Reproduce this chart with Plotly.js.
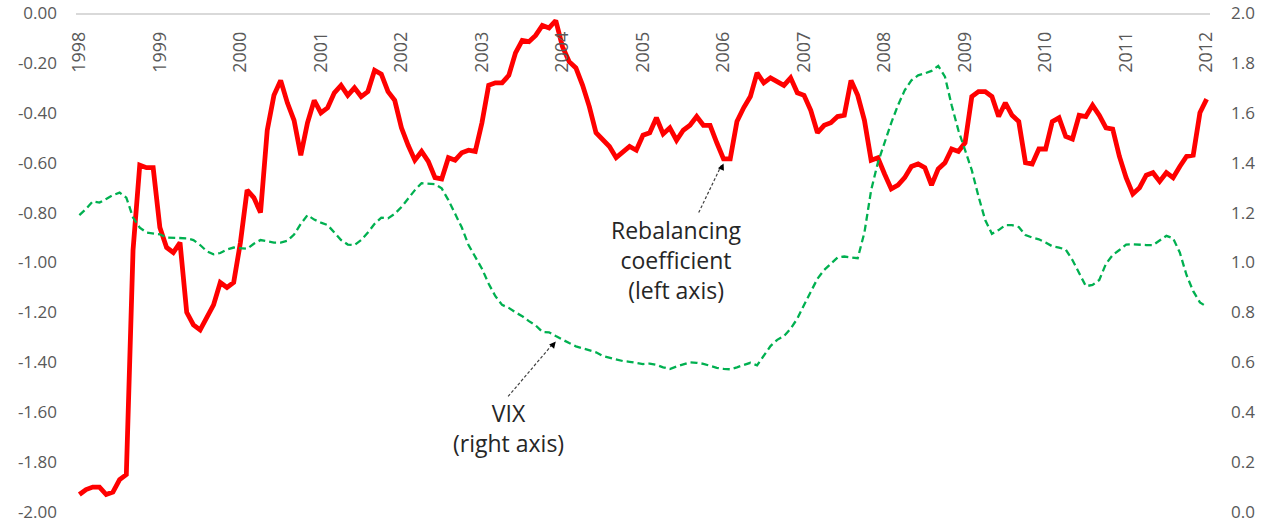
<!DOCTYPE html>
<html>
<head>
<meta charset="utf-8">
<script src="https://cdn.plot.ly/plotly-3.0.1.min.js"></script>
<style>
  html, body { margin: 0; padding: 0; background: #ffffff; }
  #chart { width: 1271px; height: 525px; }
</style>
</head>
<body>
<div id="chart"></div>
<script>
// ---- Data ----
const years = ['1998','1999','2000','2001','2002','2003','2004','2005','2006','2007','2008','2009','2010','2011','2012'];
const monthNums = ['01','02','03','04','05','06','07','08','09','10','11','12'];

// Monthly categories Jan-1998 .. Jan-2012
const months = [];
years.forEach(function (y, yi) {
  monthNums.forEach(function (m) {
    if (yi < years.length - 1 || m === '01') months.push(y + '-' + m);
  });
});

// Rebalancing coefficient (left axis)
const rebalancing = [
  -1.93, -1.91, -1.90, -1.90, -1.93, -1.92, -1.87, -1.85, -0.95, -0.61, -0.62, -0.62,
  -0.86, -0.94, -0.96, -0.92, -1.20, -1.25, -1.27, -1.22, -1.17, -1.08, -1.10, -1.08,
  -0.92, -0.71, -0.74, -0.80, -0.47, -0.33, -0.27, -0.36, -0.43, -0.57, -0.44, -0.35,
  -0.40, -0.38, -0.32, -0.29, -0.33, -0.30, -0.335, -0.315, -0.23, -0.245, -0.315, -0.35,
  -0.46, -0.53, -0.59, -0.555, -0.595, -0.66, -0.665, -0.58, -0.59, -0.56, -0.55, -0.555,
  -0.44, -0.29, -0.28, -0.28, -0.25, -0.16, -0.11, -0.115, -0.09, -0.05, -0.06, -0.03,
  -0.135, -0.195, -0.22, -0.29, -0.375, -0.48, -0.51, -0.535, -0.58, -0.555, -0.535, -0.55,
  -0.49, -0.48, -0.42, -0.485, -0.46, -0.51, -0.47, -0.45, -0.415, -0.45, -0.45, -0.52,
  -0.585, -0.585, -0.435, -0.38, -0.335, -0.24, -0.28, -0.26, -0.275, -0.29, -0.26, -0.32,
  -0.33, -0.39, -0.48, -0.45, -0.44, -0.415, -0.41, -0.27, -0.33, -0.43, -0.59, -0.58,
  -0.645, -0.705, -0.69, -0.66, -0.615, -0.605, -0.62, -0.69, -0.625, -0.60, -0.545, -0.555,
  -0.52, -0.335, -0.315, -0.315, -0.335, -0.415, -0.36, -0.41, -0.435, -0.60, -0.605, -0.545,
  -0.545, -0.435, -0.42, -0.495, -0.505, -0.41, -0.415, -0.37, -0.41, -0.46, -0.465, -0.575,
  -0.66, -0.725, -0.70, -0.65, -0.64, -0.675, -0.64, -0.66, -0.615, -0.575, -0.57, -0.40,
  -0.345
];

// VIX (right axis)
const vix = [
  1.19, 1.215, 1.245, 1.24, 1.255, 1.27, 1.28, 1.26, 1.18, 1.14, 1.12, 1.115,
  1.113, 1.10, 1.098, 1.099, 1.097, 1.09, 1.07, 1.045, 1.033, 1.038, 1.052, 1.06,
  1.058, 1.055, 1.075, 1.09, 1.085, 1.08, 1.08, 1.087, 1.112, 1.155, 1.19, 1.172,
  1.16, 1.15, 1.12, 1.09, 1.072, 1.07, 1.09, 1.12, 1.155, 1.18, 1.177, 1.195,
  1.222, 1.255, 1.29, 1.318, 1.317, 1.314, 1.297, 1.25, 1.195, 1.14, 1.07, 1.02,
  0.975, 0.915, 0.865, 0.83, 0.818, 0.80, 0.785, 0.765, 0.748, 0.722, 0.72, 0.705,
  0.69, 0.677, 0.664, 0.655, 0.648, 0.64, 0.625, 0.618, 0.612, 0.605, 0.602, 0.597,
  0.593, 0.595, 0.59, 0.58, 0.573, 0.583, 0.59, 0.60, 0.598, 0.594, 0.586, 0.578,
  0.574, 0.572, 0.58, 0.59, 0.598, 0.588, 0.625, 0.665, 0.69, 0.705, 0.735, 0.775,
  0.83, 0.88, 0.935, 0.97, 0.995, 1.02, 1.024, 1.022, 1.017, 1.12, 1.29, 1.40,
  1.48, 1.56, 1.63, 1.69, 1.73, 1.75, 1.758, 1.768, 1.788, 1.745, 1.63, 1.53,
  1.45, 1.37, 1.265, 1.17, 1.115, 1.13, 1.15, 1.15, 1.142, 1.11, 1.10, 1.093,
  1.08, 1.065, 1.06, 1.052, 1.01, 0.955, 0.905, 0.91, 0.93, 0.995, 1.03, 1.05,
  1.072, 1.073, 1.07, 1.07, 1.07, 1.088, 1.107, 1.097, 1.04, 0.95, 0.885, 0.84,
  0.823
];

// Axis tick labels
const leftTickVals = [0, -0.2, -0.4, -0.6, -0.8, -1.0, -1.2, -1.4, -1.6, -1.8, -2.0];
const leftTickText = ['0.00','-0.20','-0.40','-0.60','-0.80','-1.00','-1.20','-1.40','-1.60','-1.80','-2.00'];
const rightTickVals = [2.0, 1.8, 1.6, 1.4, 1.2, 1.0, 0.8, 0.6, 0.4, 0.2, 0.0];
const rightTickText = ['2.0','1.8','1.6','1.4','1.2','1.0','0.8','0.6','0.4','0.2','0.0'];
const yearTickVals = years.map(function (y) { return y + '-01'; });

// Annotation texts
const rebalLabel = 'Rebalancing<br>coefficient<br>(left axis)';
const vixLabel = 'VIX<br>(right axis)';

// ---- Chart ----
const tickFont = { family: 'Open Sans, Noto Sans, sans-serif', size: 17, color: '#595959' };
const annFont = { family: 'Open Sans, Noto Sans, sans-serif', size: 23, color: '#262626' };

const traces = [
  {
    x: months, y: rebalancing, type: 'scatter', mode: 'lines',
    name: 'Rebalancing coefficient', yaxis: 'y',
    line: { color: '#ff0000', width: 4.8 }
  },
  {
    x: months, y: vix, type: 'scatter', mode: 'lines',
    name: 'VIX', yaxis: 'y2',
    line: { color: '#00b050', width: 2.3, dash: '7px,4px' }
  }
];

const layout = {
  width: 1271, height: 525,
  margin: { l: 76, r: 61, t: 13, b: 13 },
  paper_bgcolor: '#ffffff', plot_bgcolor: '#ffffff',
  showlegend: false,
  xaxis: {
    type: 'category',
    categoryorder: 'array', categoryarray: months,
    range: [-0.5, months.length - 0.5],
    anchor: 'free', position: 1, side: 'bottom',
    showline: true, linecolor: '#d9d9d9', linewidth: 1.5,
    showgrid: false, zeroline: false,
    ticks: '',
    tickmode: 'array', tickvals: yearTickVals, ticktext: years,
    tickangle: -90,
    ticklabelstandoff: 10,
    ticklabeloverflow: 'allow',
    tickfont: { family: 'Open Sans, Noto Sans, sans-serif', size: 18, color: '#595959' }
  },
  yaxis: {
    range: [-2, 0],
    showgrid: false, zeroline: false, showline: false,
    ticks: '',
    tickmode: 'array', tickvals: leftTickVals, ticktext: leftTickText,
    ticklabelstandoff: 18,
    ticklabeloverflow: 'allow',
    tickfont: tickFont
  },
  yaxis2: {
    range: [0, 2],
    overlaying: 'y', side: 'right',
    showgrid: false, zeroline: false, showline: false,
    ticks: '',
    tickmode: 'array', tickvals: rightTickVals, ticktext: rightTickText,
    ticklabelstandoff: 20,
    ticklabeloverflow: 'allow',
    tickfont: tickFont
  },
  annotations: [
    {
      x: months[89], y: -0.99, xref: 'x', yref: 'y',
      text: rebalLabel, showarrow: false, font: annFont, align: 'center'
    },
    {
      x: months[64], y: -1.665, xref: 'x', yref: 'y',
      text: vixLabel, showarrow: false, font: annFont, align: 'center'
    },
    {
      x: months[96], y: -0.603, xref: 'x', yref: 'y',
      ax: -3, ay: 7, text: '', showarrow: true,
      arrowhead: 2, arrowsize: 1.3, arrowwidth: 1, arrowcolor: '#000000'
    },
    {
      x: months[71], y: -1.317, xref: 'x', yref: 'y',
      ax: -5, ay: 6, text: '', showarrow: true,
      arrowhead: 2, arrowsize: 1.3, arrowwidth: 1, arrowcolor: '#000000'
    }
  ],
  shapes: [
    {
      type: 'line', xref: 'x', yref: 'y',
      x0: 92.3, y0: -0.80, x1: 95.7, y1: -0.61,
      line: { color: '#404040', width: 1.2, dash: '3px,2px' }
    },
    {
      type: 'line', xref: 'x', yref: 'y',
      x0: 63.9, y0: -1.537, x1: 70.6, y1: -1.325,
      line: { color: '#404040', width: 1.2, dash: '3px,2px' }
    }
  ]
};

Plotly.newPlot('chart', traces, layout, { displayModeBar: false, staticPlot: true });
</script>
</body>
</html>
